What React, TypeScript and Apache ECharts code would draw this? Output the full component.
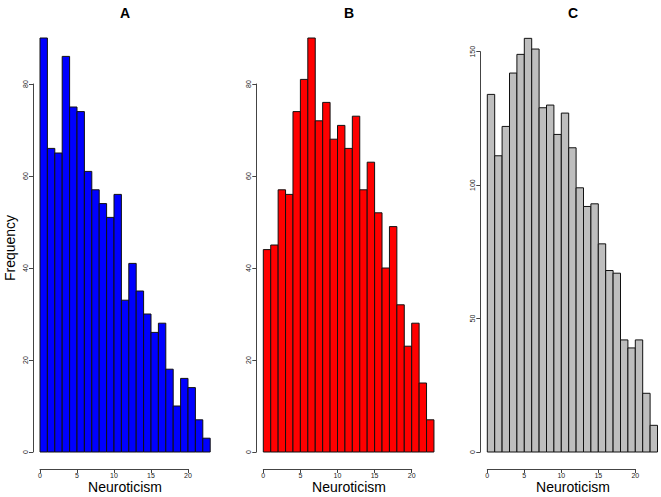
import React, { useEffect, useRef } from "react";
import * as echarts from "echarts";

const binStarts = [0, 1, 2, 3, 4, 5, 6, 7, 8, 9, 10, 11, 12, 13, 14, 15, 16, 17, 18, 19, 20, 21, 22];
const countsA = [90, 66, 65, 86, 75, 74, 61, 57, 54, 51, 56, 33, 41, 35, 30, 26, 28, 18, 10, 16, 14, 7, 3];
const countsB = [44, 45, 57, 56, 74, 81, 90, 72, 76, 68, 71, 66, 73, 57, 63, 52, 40, 49, 32, 23, 28, 15, 7];
const countsC = [134, 111, 122, 142, 149, 155, 151, 129, 130, 119, 127, 114, 99, 92, 93, 78, 68, 67, 42, 39, 42, 22, 10];
const panelTitles = ["A", "B", "C"];
const xAxisTitle = "Neuroticism";
const yAxisTitle = "Frequency";
const xTicks = [0, 5, 10, 15, 20];
const yMaxes = [80, 80, 150];
const yIntervals = [20, 20, 50];
const colors = ["#0000FF", "#FF0000", "#BEBEBE"];

const FONT = "'Liberation Sans', Arial, Helvetica, sans-serif";

export default function App() {
  const ref = useRef<HTMLDivElement>(null);
  useEffect(() => {
    const chart = echarts.init(ref.current!, null, { renderer: "svg" });
    const allCounts = [countsA, countsB, countsC];
    const grids = [
      { left: 40, top: 84, width: 148, height: 368 },
      { left: 263.3, top: 84, width: 148.4, height: 368 },
      { left: 487.3, top: 51.7, width: 148, height: 400.3 },
    ];
    const titleX = [125, 349, 573];
    const option: any = {
      animation: false,
      backgroundColor: "#ffffff",
      grid: grids.map((g) => ({ ...g, containLabel: false, outerBoundsMode: "none" })),
      xAxis: grids.map((_, i) => ({
        type: "value",
        gridIndex: i,
        min: xTicks[0],
        max: xTicks[xTicks.length - 1],
        interval: 5,
        offset: 17,
        position: "bottom",
        splitLine: { show: false },
        axisLine: { show: true, onZero: false, lineStyle: { color: "#444", width: 1 } },
        axisTick: { show: true, length: 4, lineStyle: { color: "#444" } },
        axisLabel: { fontSize: 7, color: "#222", margin: 3, fontFamily: FONT },
      })),
      yAxis: grids.map((_, i) => ({
        type: "value",
        gridIndex: i,
        min: 0,
        max: yMaxes[i],
        interval: yIntervals[i],
        offset: 7,
        position: "left",
        splitLine: { show: false },
        axisLine: { show: true, onZero: false, lineStyle: { color: "#444", width: 1 } },
        axisTick: { show: true, length: 4, lineStyle: { color: "#444" } },
        axisLabel: { fontSize: 7, color: "#222", margin: 4, rotate: 90, fontFamily: FONT },
      })),
      graphic: [
        ...panelTitles.map((t, i) => ({
          type: "text",
          x: titleX[i],
          y: 13,
          style: {
            text: t,
            fill: "#000",
            font: `bold 14px ${FONT}`,
            textAlign: "center",
            textVerticalAlign: "middle",
          },
        })),
        ...panelTitles.map((_, i) => ({
          type: "text",
          x: titleX[i],
          y: 487,
          style: {
            text: xAxisTitle,
            fill: "#000",
            font: `14px ${FONT}`,
            textAlign: "center",
            textVerticalAlign: "middle",
          },
        })),
        {
          type: "text",
          x: 10,
          y: 248,
          rotation: Math.PI / 2,
          style: {
            text: yAxisTitle,
            fill: "#000",
            font: `14px ${FONT}`,
            textAlign: "center",
            textVerticalAlign: "middle",
          },
        },
      ],
      series: allCounts.map((counts, i) => ({
        type: "custom",
        xAxisIndex: i,
        yAxisIndex: i,
        clip: false,
        data: binStarts.map((b, k) => [b, b + 1, counts[k]]),
        renderItem: (params: any, api: any) => {
          const x0 = api.value(0);
          const x1 = api.value(1);
          const y = api.value(2);
          const p0 = api.coord([x0, 0]);
          const p1 = api.coord([x1, y]);
          return {
            type: "rect",
            shape: { x: p0[0], y: p1[1], width: p1[0] - p0[0], height: p0[1] - p1[1] },
            style: { fill: colors[i], stroke: "#111", lineWidth: 1 },
          };
        },
      })),
    };
    chart.setOption(option);
    return () => chart.dispose();
  }, []);
  return (
    <div
      ref={ref}
      style={{ position: "fixed", left: 0, top: 0, width: 661, height: 497 }}
    />
  );
}
